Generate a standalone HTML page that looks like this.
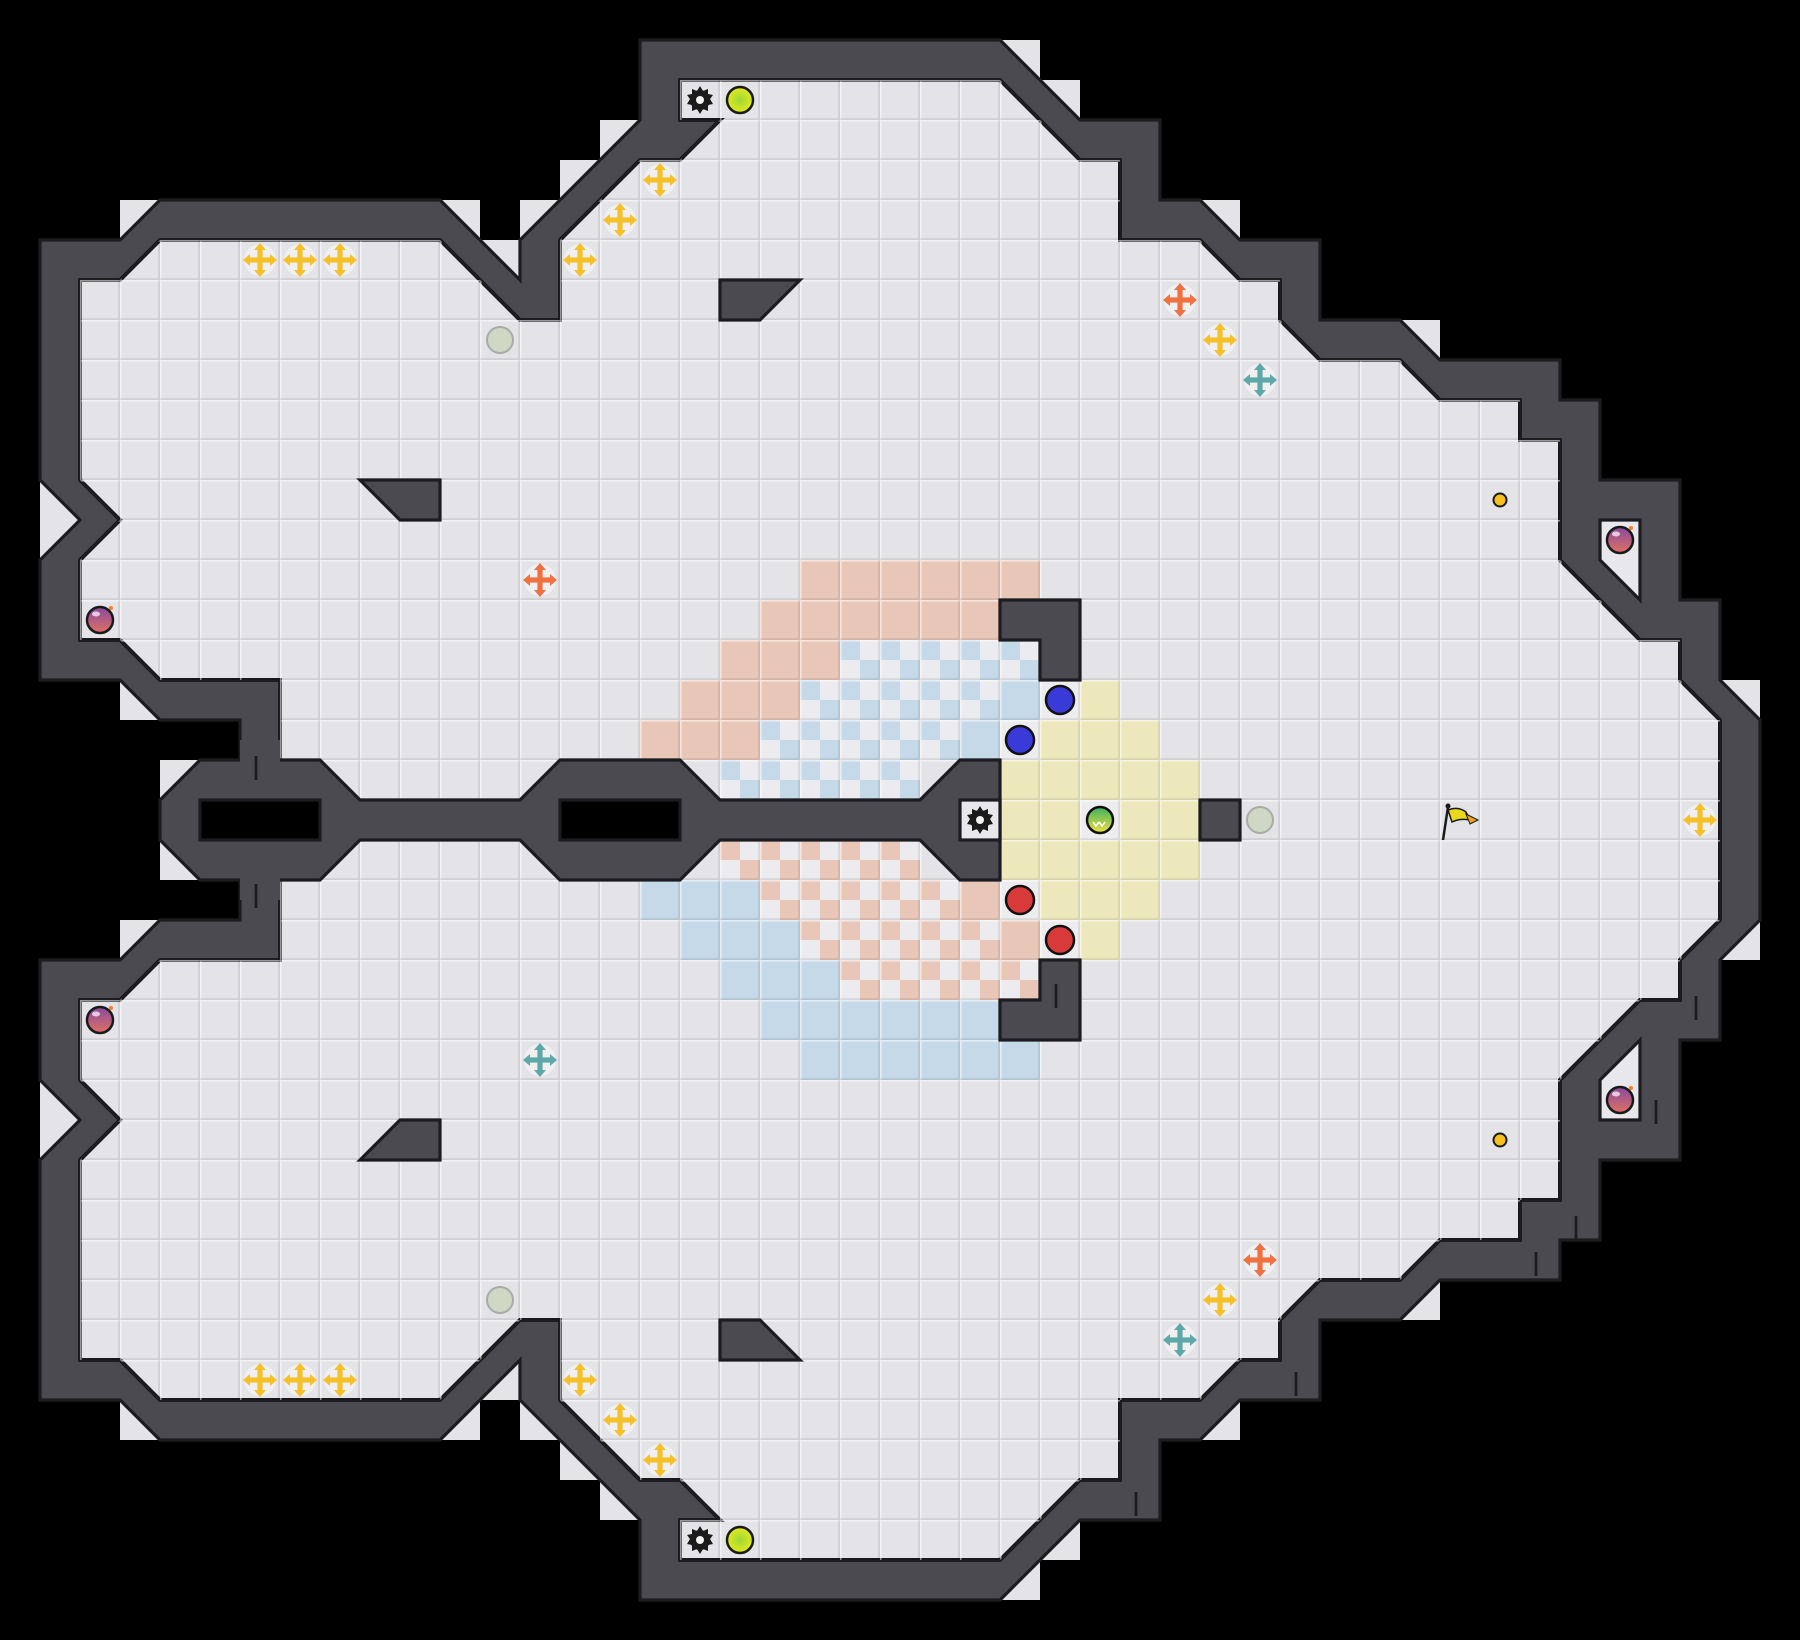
<!DOCTYPE html>
<html><head><meta charset="utf-8"><style>
html,body{margin:0;padding:0;background:#000;}
svg{display:block;}
</style></head><body>
<svg width="1800" height="1640" viewBox="0 0 1800 1640" xmlns="http://www.w3.org/2000/svg">
<defs>
<pattern id="grid" patternUnits="userSpaceOnUse" width="1" height="1">
<path d="M0 0.02H1M0.02 0V1" stroke="#ffffff" stroke-opacity="0.55" stroke-width="0.04" fill="none"/>
<path d="M0 0.98H1M0.98 0V1" stroke="#000" stroke-opacity="0.09" stroke-width="0.05" fill="none"/>
</pattern>
<pattern id="chkB" patternUnits="userSpaceOnUse" width="1" height="1">
<rect width="1" height="1" fill="#ececf0"/>
<rect width="0.5" height="0.5" fill="#c5d9e8"/><rect x="0.5" y="0.5" width="0.5" height="0.5" fill="#c5d9e8"/>
</pattern>
<pattern id="chkS" patternUnits="userSpaceOnUse" width="1" height="1">
<rect width="1" height="1" fill="#ececf0"/>
<rect width="0.5" height="0.5" fill="#e8c6b8"/><rect x="0.5" y="0.5" width="0.5" height="0.5" fill="#e8c6b8"/>
</pattern>
<clipPath id="floorClip" clipPathUnits="userSpaceOnUse">
<polygon points="17,2 25,2 27,4 28,4 28,6 30,6 31,7 32,7 32,8 33,9 35,9 36,10 38,10 38,11 39,11 39,14 41,16 42,16 42,17 43,18 43,23 42,24 42,25 41,25 39,27 39,30 38,30 38,31 36,31 35,32 33,32 32,33 32,34 31,34 30,35 28,35 28,37 27,37 25,39 17,39 17,38 18,38 17,37 16,37 14,35 14,33 13,33 11,35 4,35 3,34 2,34 2,29 3,28 2,27 2,25 3,25 4,24 7,24 7,17 4,17 3,16 2,16 2,14 3,13 2,12 2,7 3,7 4,6 11,6 13,8 14,8 14,6 16,4 17,4 18,3 17,3"/>
</clipPath>
<radialGradient id="gYel" cx="0.5" cy="0.5" r="0.5"><stop offset="0" stop-color="#9cd83a"/><stop offset="1" stop-color="#e4ea1c"/></radialGradient>
<linearGradient id="gBomb" x1="0" y1="0" x2="0" y2="1"><stop offset="0" stop-color="#8a4aa0"/><stop offset="1" stop-color="#e07060"/></linearGradient>
<linearGradient id="gBall" x1="0" y1="0" x2="0" y2="1"><stop offset="0" stop-color="#40b060"/><stop offset="1" stop-color="#f0e040"/></linearGradient>
<g id="cross">
<circle r="16" fill="#ffffff" fill-opacity="0.45"/>
<rect x="-12" y="-2.6" width="24" height="5.2"/>
<rect x="-2.6" y="-12" width="5.2" height="24"/>
<polygon points="0,-17 -6,-10 6,-10"/>
<polygon points="0,17 -6,10 6,10"/>
<polygon points="-17,0 -10,-6 -10,6"/>
<polygon points="17,0 10,-6 10,6"/>
</g>
<g id="gear">
<polygon fill="#1a1a1a" points="0,-14 3,-9 8,-11 8,-6 13,-5 10,-1 13,4 8,5 8,11 3,9 0,14 -3,9 -8,11 -8,5 -13,4 -10,-1 -13,-5 -8,-6 -8,-11 -3,-9"/>
<circle r="10" fill="#1a1a1a"/>
<circle r="4" fill="#f0f0f0"/>
</g>
<g id="bomb">
<circle r="13" fill="url(#gBomb)" stroke="#1a1a1a" stroke-width="2.5"/>
<ellipse cx="-4" cy="-6" rx="4" ry="2.5" fill="#fff" fill-opacity="0.7"/>
<circle cx="11" cy="-12" r="2" fill="#f08030"/>
</g>
</defs>

<g transform="scale(40)">
<g fill="#e3e3e8">
<rect x="25" y="1" width="1" height="1"/><rect x="26" y="2" width="1" height="1"/>
<rect x="30" y="5" width="1" height="1"/><rect x="35" y="8" width="1" height="1"/>
<rect x="43" y="17" width="1" height="1"/><rect x="43" y="23" width="1" height="1"/>
<rect x="35" y="32" width="1" height="1"/><rect x="30" y="35" width="1" height="1"/>
<rect x="26" y="38" width="1" height="1"/><rect x="25" y="39" width="1" height="1"/>
<rect x="15" y="3" width="1" height="1"/><rect x="14" y="4" width="1" height="1"/><rect x="13" y="5" width="1" height="1"/>
<rect x="12" y="6" width="1" height="1"/><rect x="11" y="5" width="1" height="1"/>
<rect x="3" y="5" width="1" height="1"/><rect x="1" y="12" width="1" height="1"/><rect x="1" y="13" width="1" height="1"/>
<rect x="3" y="17" width="1" height="1"/>
<rect x="15" y="37" width="1" height="1"/><rect x="14" y="36" width="1" height="1"/><rect x="13" y="35" width="1" height="1"/>
<rect x="12" y="34" width="1" height="1"/><rect x="11" y="35" width="1" height="1"/>
<rect x="3" y="35" width="1" height="1"/><rect x="1" y="28" width="1" height="1"/><rect x="1" y="27" width="1" height="1"/>
<rect x="3" y="23" width="1" height="1"/>
<rect x="4" y="19" width="1" height="1"/><rect x="4" y="21" width="1" height="1"/>
</g>
<polygon fill="#4a4a50" stroke="#1c1c20" stroke-width="0.08" stroke-linejoin="miter" points="16,1 25,1 27,3 29,3 29,5 30,5 31,6 33,6 33,8 35,8 36,9 39,9 39,10 40,10 40,12 42,12 42,15 43,15 43,17 44,18 44,23 43,24 43,26 42,26 42,29 40,29 40,31 39,31 39,32 36,32 35,33 33,33 33,35 31,35 30,36 29,36 29,38 27,38 25,40 16,40 16,38 13,35 13,34 11,36 4,36 3,35 1,35 1,29 2,28 1,27 1,24 3,24 4,23 6,23 6,18 4,18 3,17 1,17 1,14 2,13 1,12 1,6 3,6 4,5 11,5 13,7 13,6 16,3"/>
<polygon fill="#e3e3e8" stroke="#1c1c20" stroke-width="0.1" points="17,2 25,2 27,4 28,4 28,6 30,6 31,7 32,7 32,8 33,9 35,9 36,10 38,10 38,11 39,11 39,14 41,16 42,16 42,17 43,18 43,23 42,24 42,25 41,25 39,27 39,30 38,30 38,31 36,31 35,32 33,32 32,33 32,34 31,34 30,35 28,35 28,37 27,37 25,39 17,39 17,38 18,38 17,37 16,37 14,35 14,33 13,33 11,35 4,35 3,34 2,34 2,29 3,28 2,27 2,25 3,25 4,24 7,24 7,17 4,17 3,16 2,16 2,14 3,13 2,12 2,7 3,7 4,6 11,6 13,8 14,8 14,6 16,4 17,4 18,3 17,3"/>
<g clip-path="url(#floorClip)">
<g fill="#e8c6b8">
<rect x="20" y="14" width="6" height="1"/><rect x="19" y="15" width="6" height="1"/>
<rect x="18" y="16" width="3" height="1"/><rect x="17" y="17" width="3" height="1"/><rect x="16" y="18" width="3" height="1"/>
<rect x="24" y="22" width="1" height="1"/><rect x="25" y="23" width="1" height="1"/>
</g>
<g fill="#c5d9e8">
<rect x="25" y="17" width="1" height="1"/><rect x="24" y="18" width="1" height="1"/>
<rect x="16" y="22" width="3" height="1"/><rect x="17" y="23" width="3" height="1"/><rect x="18" y="24" width="3" height="1"/>
<rect x="19" y="25" width="6" height="1"/><rect x="20" y="26" width="6" height="1"/>
</g>
<g fill="url(#chkB)">
<rect x="21" y="16" width="5" height="1"/><rect x="20" y="17" width="5" height="1"/>
<rect x="19" y="18" width="5" height="1"/><rect x="18" y="19" width="5" height="1"/>
</g>
<g fill="url(#chkS)">
<rect x="18" y="21" width="5" height="1"/><rect x="19" y="22" width="5" height="1"/>
<rect x="20" y="23" width="5" height="1"/><rect x="21" y="24" width="5" height="1"/>
</g>
<g fill="#ece8bc">
<rect x="27" y="17" width="1" height="1"/><rect x="26" y="18" width="3" height="1"/>
<rect x="25" y="19" width="5" height="1"/><rect x="25" y="20" width="2" height="1"/><rect x="28" y="20" width="2" height="1"/>
<rect x="25" y="21" width="5" height="1"/><rect x="26" y="22" width="3" height="1"/><rect x="27" y="23" width="1" height="1"/>
</g>
<g fill="#ededf0">
<rect x="26" y="17" width="1" height="1"/><rect x="25" y="18" width="1" height="1"/>
<rect x="25" y="22" width="1" height="1"/><rect x="26" y="23" width="1" height="1"/>
<rect x="27" y="20" width="1" height="1"/>
</g>
<rect x="0" y="0" width="45" height="41" fill="url(#grid)"/>
</g>
<g fill="#4a4a50" stroke="#1c1c20" stroke-width="0.08">
<polygon points="4,20 5,19 8,19 9,20 13,20 14,19 17,19 18,20 23,20 24,19 25,19 25,22 24,22 23,21 18,21 17,22 14,22 13,21 9,21 8,22 5,22 4,21"/>
<polygon points="9,12 11,12 11,13 10,13"/>
<polygon points="18,7 20,7 19,8 18,8"/>
<polygon points="9,29 11,29 11,28 10,28"/>
<polygon points="18,34 20,34 19,33 18,33"/>
<polygon points="25,15 27,15 27,17 26,17 26,16 25,16"/>
<polygon points="25,26 27,26 27,24 26,24 26,25 25,25"/>
<rect x="30" y="20" width="1" height="1"/>
</g>
<g fill="#4a4a50">
<rect x="6" y="18.5" width="1" height="0.6"/>
<rect x="6" y="21.9" width="1" height="0.6"/>
</g>
<g fill="#000" stroke="#1c1c20" stroke-width="0.08">
<rect x="5" y="20" width="3" height="1"/>
<rect x="14" y="20" width="3" height="1"/>
</g>
<g fill="#e8e8ec" stroke="#1c1c20" stroke-width="0.08">
<rect x="24" y="20" width="1" height="1"/>
<polygon points="40,13 41,13 41,15 40,14"/>
<polygon points="40,28 41,28 41,26 40,27"/>
</g>
<g stroke="#1c1c20" stroke-width="0.07">
<line x1="6.4" y1="18.9" x2="6.4" y2="19.5"/>
<line x1="6.4" y1="22.1" x2="6.4" y2="22.7"/>
<line x1="26.4" y1="24.6" x2="26.4" y2="25.2"/>
<line x1="42.4" y1="24.9" x2="42.4" y2="25.5"/>
<line x1="41.4" y1="27.5" x2="41.4" y2="28.1"/>
<line x1="39.4" y1="30.4" x2="39.4" y2="31"/>
<line x1="38.4" y1="31.3" x2="38.4" y2="31.9"/>
<line x1="32.4" y1="34.3" x2="32.4" y2="34.9"/>
<line x1="28.4" y1="37.3" x2="28.4" y2="37.9"/>
</g>
</g>

<g fill="#f5c02a">
<use href="#cross" x="660" y="180"/><use href="#cross" x="620" y="220"/><use href="#cross" x="580" y="260"/>
<use href="#cross" x="260" y="260"/><use href="#cross" x="300" y="260"/><use href="#cross" x="340" y="260"/>
<use href="#cross" x="1220" y="340"/><use href="#cross" x="1700" y="820"/>
<use href="#cross" x="260" y="1380"/><use href="#cross" x="300" y="1380"/><use href="#cross" x="340" y="1380"/>
<use href="#cross" x="580" y="1380"/><use href="#cross" x="620" y="1420"/><use href="#cross" x="660" y="1460"/>
<use href="#cross" x="1220" y="1300"/>
</g>
<g fill="#f07040">
<use href="#cross" x="540" y="580"/><use href="#cross" x="1180" y="300"/><use href="#cross" x="1260" y="1260"/>
</g>
<g fill="#5fa8a8">
<use href="#cross" x="1260" y="380"/><use href="#cross" x="540" y="1060"/><use href="#cross" x="1180" y="1340"/>
</g>
<g fill="#cfd8c4" stroke="#a8aca4" stroke-width="2">
<circle cx="500" cy="340" r="13"/><circle cx="500" cy="1300" r="13"/><circle cx="1260" cy="820" r="13"/>
</g>
<use href="#gear" x="700" y="100"/><use href="#gear" x="700" y="1540"/><use href="#gear" x="980" y="820"/>
<g fill="url(#gYel)" stroke="#1a1a1a" stroke-width="2.5">
<circle cx="740" cy="100" r="13"/><circle cx="740" cy="1540" r="13"/>
</g>
<use href="#bomb" x="100" y="620"/><use href="#bomb" x="100" y="1020"/>
<use href="#bomb" x="1620" y="540"/><use href="#bomb" x="1620" y="1100"/>
<g fill="#f5c020" stroke="#1a1a1a" stroke-width="2">
<circle cx="1500" cy="500" r="6.5"/><circle cx="1500" cy="1140" r="6.5"/>
</g>
<g fill="#3a3ad8" stroke="#111" stroke-width="2.5">
<circle cx="1060" cy="700" r="14"/><circle cx="1020" cy="740" r="14"/>
</g>
<g fill="#d83a3a" stroke="#111" stroke-width="2.5">
<circle cx="1020" cy="900" r="14"/><circle cx="1060" cy="940" r="14"/>
</g>
<circle cx="1100" cy="820" r="13" fill="url(#gBall)" stroke="#111" stroke-width="2.5"/>
<path d="M1093 822 l3 4 l3 -4 M1099 822 l3 4 l3 -4" stroke="#fff" stroke-width="1.5" fill="none"/>
<g>
<line x1="1443" y1="840" x2="1448" y2="807" stroke="#1a1a1a" stroke-width="2.5"/>
<circle cx="1448" cy="806" r="2.5" fill="#1a1a1a"/>
<path d="M1448 810 Q1458 806 1466 812 L1470 820 Q1460 818 1452 822 Z" fill="#e8d820" stroke="#1a1a1a" stroke-width="1.5"/>
<path d="M1466 814 L1478 820 L1470 824 Z" fill="#f0a020" stroke="#1a1a1a" stroke-width="1"/>
</g>
</svg>
</body></html>
